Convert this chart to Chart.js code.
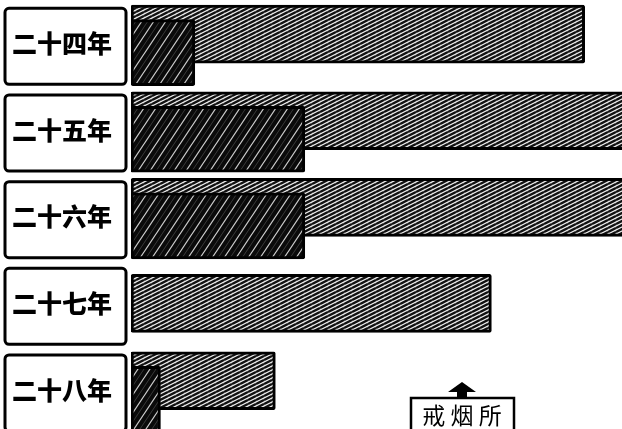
<!DOCTYPE html>
<html><head><meta charset="utf-8">
<style>html,body{margin:0;padding:0;background:#fff;}canvas{display:block;}</style>
<script src="https://cdn.jsdelivr.net/npm/chart.js@4.4.1/dist/chart.umd.min.js"></script>
</head><body>
<canvas id="c" width="622" height="429"></canvas>
<script>
// ---- data ----
const categories = ['二十四年', '二十五年', '二十六年', '二十七年', '二十八年'];
const totalValues = [462, 520, 520, 367, 147];      // light hatched bars
const rehabValues = [65, 177, 177, null, 30];        // dark bars (戒烟所)
const legendLabel = '戒烟所';
const totalLabel = '總數';
const xMax = 500;

// ---- patterns ----
function hatch(w, h, bg, lines) {
  const c = document.createElement('canvas');
  c.width = w; c.height = h;
  const g = c.getContext('2d');
  g.fillStyle = bg; g.fillRect(0, 0, w, h);
  for (const L of lines) {
    g.strokeStyle = L.color; g.lineWidth = L.width;
    for (let dx = -w; dx <= w; dx += w) for (let dy = -h; dy <= h; dy += h) {
      g.beginPath();
      g.moveTo(L.p * w + dx, h + dy);
      g.lineTo(L.p * w + w + dx, dy);
      g.stroke();
    }
  }
  return g.createPattern(c, 'repeat');
}
const lightPat = hatch(8, 4, '#f0f0f0', [{p: 0, color: '#111', width: 2.4}]);
const darkPat = hatch(12, 18, '#0a0a0a', [{p: 0, color: '#cfcfcf', width: 1.2}, {p: 0.5, color: '#3a3a3a', width: 1}]);

const CJK = '"Noto Sans CJK SC", "Noto Sans CJK TC", sans-serif';
const shift = 0.107;
const yMin = -0.5, yMax = 4.45;
const rehabData = categories.map((c, i) => ({x: rehabValues[i], y: i + shift})).filter(d => d.x != null);
const totalData = categories.map((c, i) => ({x: totalValues[i], y: rehabValues[i] == null ? i : i - shift}));

const boxPlugin = {
  id: 'labelBoxes',
  afterDraw(chart) {
    const ctx = chart.ctx, ys = chart.scales.y;
    ctx.save();
    ctx.strokeStyle = '#000'; ctx.lineWidth = 3;
    categories.forEach((c, i) => {
      const y = ys.getPixelForValue(i) + 3;
      ctx.beginPath();
      ctx.roundRect(5, y - 38, 121, 76, 4);
      ctx.stroke();
    });
    // legend
    const cx = 462, top = 398;
    ctx.fillStyle = '#000';
    ctx.beginPath();
    ctx.moveTo(cx, top - 16); ctx.lineTo(cx + 14, top - 6); ctx.lineTo(cx + 5, top - 6);
    ctx.lineTo(cx + 5, top); ctx.lineTo(cx - 5, top); ctx.lineTo(cx - 5, top - 6); ctx.lineTo(cx - 14, top - 6);
    ctx.closePath(); ctx.fill();
    ctx.lineWidth = 2.5;
    ctx.beginPath(); ctx.rect(411, top, 103, 36); ctx.stroke();
    ctx.font = '23px ' + CJK;
    ctx.textAlign = 'center'; ctx.textBaseline = 'middle';
    ctx.fillText(legendLabel.split('').join(' '), cx, top + 17);
    ctx.restore();
  }
};

new Chart(document.getElementById('c'), {
  type: 'bar',
  data: {
    datasets: [
      {label: legendLabel, data: rehabData, backgroundColor: darkPat, borderColor: '#000', borderWidth: 3,
       borderSkipped: false, borderRadius: 2, barThickness: 66, grouped: false, order: 0},
      {label: totalLabel, data: totalData, backgroundColor: lightPat, borderColor: '#000', borderWidth: 3,
       borderSkipped: false, borderRadius: 2, barThickness: 58, grouped: false, order: 1}
    ]
  },
  options: {
    indexAxis: 'y',
    responsive: false,
    animation: false,
    devicePixelRatio: 1,
    layout: {padding: 0},
    plugins: {legend: {display: false}, tooltip: {enabled: false}},
    scales: {
      x: {type: 'linear', min: 0, max: xMax, display: false},
      y: {
        type: 'linear', reverse: true, min: yMin, max: yMax, offset: false,
        afterBuildTicks: s => { s.ticks = categories.map((c, i) => ({value: i})); },
        afterFit: s => { s.width = 131; s.paddingTop = 0; s.paddingBottom = 0; },
        ticks: {callback: v => categories[v], color: '#000', padding: 11, crossAlign: 'center',
                font: {family: CJK, size: 25, weight: '900'}},
        grid: {display: false}, border: {display: false}
      }
    }
  },
  plugins: [boxPlugin]
});
</script>
</body></html>
